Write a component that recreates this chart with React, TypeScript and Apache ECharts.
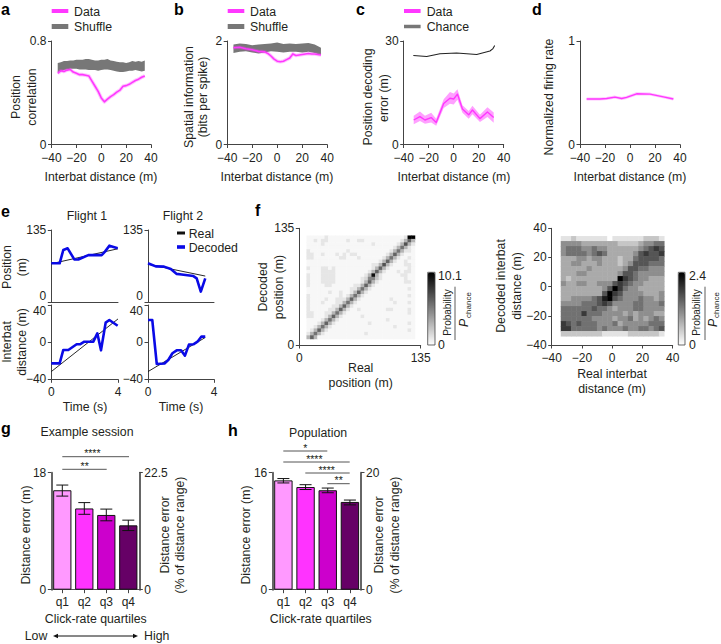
import React, { useEffect, useRef } from "react";
import * as echarts from "echarts";

const FONT = "Liberation Sans";
const INK = "#231f20";
const AXIS = "#444";
const MAGENTA = "#ff38ff";
const GREY = "#777777";
const BLUE = "#0a0ae6";

const aX = [-35, -32.5, -30, -27.5, -25, -22.5, -20, -17.5, -15, -12.5, -10, -7.5, -5, -2.5, 0, 2.5, 5, 7.5, 10, 12.5, 15, 17.5, 20, 22.5, 25, 27.5, 30, 32.5, 35];
const aData = [0.55, 0.57, 0.565, 0.575, 0.58, 0.56, 0.55, 0.54, 0.54, 0.535, 0.53, 0.49, 0.45, 0.41, 0.36, 0.33, 0.35, 0.37, 0.385, 0.405, 0.42, 0.45, 0.455, 0.465, 0.48, 0.495, 0.505, 0.52, 0.53];
const aShuffleHi = [0.63, 0.635, 0.645, 0.645, 0.65, 0.65, 0.655, 0.655, 0.655, 0.66, 0.66, 0.655, 0.65, 0.65, 0.655, 0.655, 0.66, 0.65, 0.645, 0.64, 0.635, 0.635, 0.63, 0.635, 0.645, 0.64, 0.645, 0.64, 0.65];
const aShuffleLo = [0.56, 0.565, 0.575, 0.58, 0.585, 0.585, 0.585, 0.58, 0.58, 0.58, 0.575, 0.575, 0.575, 0.57, 0.575, 0.58, 0.58, 0.575, 0.57, 0.565, 0.56, 0.56, 0.565, 0.57, 0.57, 0.575, 0.57, 0.565, 0.57];

const bX = [-35, -30, -25, -20, -15, -10, -7.5, -5, -2.5, 0, 2.5, 5, 7.5, 10, 12.5, 15, 17.5, 20, 22.5, 25, 27.5, 30, 32.5, 35];
const bData = [1.87, 1.88, 1.85, 1.83, 1.8, 1.79, 1.76, 1.71, 1.65, 1.61, 1.6, 1.61, 1.64, 1.67, 1.75, 1.72, 1.73, 1.74, 1.75, 1.76, 1.75, 1.75, 1.74, 1.73];
const bShuffleX = [-35, -30, -25, -20, -15, -10, -5, 0, 5, 10, 15, 20, 25, 30, 35];
const bShuffleHi = [1.93, 1.95, 1.94, 1.92, 1.93, 1.94, 1.95, 1.97, 1.94, 1.95, 1.94, 1.95, 1.96, 1.93, 1.87];
const bShuffleLo = [1.77, 1.79, 1.8, 1.78, 1.76, 1.78, 1.8, 1.79, 1.78, 1.79, 1.79, 1.78, 1.79, 1.77, 1.73];

const cX = [-32, -27, -23, -18, -14, -8, -3, 0, 3, 7, 12, 15, 21, 27, 32];
const cData = [7.1, 8.1, 7.1, 7.8, 6.4, 11.9, 13.4, 13.2, 14.6, 10.3, 8.6, 10, 7.5, 9.4, 7.8];
const cDataLo = [5.9, 6.8, 6.0, 6.4, 5.4, 10.6, 11.8, 11.6, 13.0, 9.2, 7.5, 8.8, 6.5, 8.0, 6.3];
const cDataHi = [8.3, 9.6, 8.3, 9.2, 7.5, 13.1, 15.2, 14.8, 16.0, 11.4, 9.7, 11.2, 8.6, 10.8, 9.3];
const cChanceX = [-32.3, -21.6, -11, 2.3, 10.4, 18.4, 29, 31.2, 32.8];
const cChance = [25.8, 25.5, 26.3, 26.5, 26.3, 26.1, 27.1, 27.7, 28.7];

const dX = [-34.7, -24, -18.7, -12, -6.7, -2.7, 5.3, 16, 26.7, 34.7];
const dData = [0.44, 0.44, 0.445, 0.458, 0.445, 0.455, 0.49, 0.487, 0.46, 0.44];

const e1PosT = [0, 0.5, 0.72, 0.98, 1.38, 1.62, 2.22, 3.02, 3.22, 3.48, 3.98];
const e1PosDecoded = [72.8, 72.8, 97.7, 100.8, 80, 80, 88, 88, 94.6, 105.8, 100.8];
const e1PosRealT = [0, 4];
const e1PosReal = [72, 100];
const e2PosT = [0, 0.47, 0.97, 1.38, 1.74, 2.04, 2.75, 2.95, 3.2, 3.47];
const e2PosDecoded = [72.8, 67, 66.6, 62, 53, 52, 49, 44.8, 20, 44.8];
const e2PosRealT = [0, 3.47];
const e2PosReal = [71, 49];
const e1DistT = [0, 0.5, 0.72, 1.02, 1.52, 1.72, 1.98, 2.52, 2.76, 2.98, 3.26, 3.48, 3.98];
const e1DistDecoded = [-22.8, -22.8, -8.4, -8.4, -2.3, -2.3, 0.5, 0.5, 9.5, -8.8, 21, 23.8, 17.7];
const e1DistRealT = [0, 4];
const e1DistReal = [-31.7, 25];
const e2DistT = [0, 0.26, 0.53, 1, 1.24, 1.48, 1.74, 2, 2.24, 2.48, 2.75, 3, 3.24, 3.47];
const e2DistDecoded = [23.8, 23.8, -23.5, -23, -19, -12, -8.8, -8.8, -14.5, -2.7, -2.3, 0.5, 6, 6];
const e2DistRealT = [0, 3.47];
const e2DistReal = [-31.7, 5];

// Position heat map: darkness levels 0-f, top row first
const fPosRows = [
  "0000010000" + "0000000000" + "00000001ff",
  "0010110000" + "0100110000" + "0000001494",
  "0000100000" + "0000000010" + "0000014a41",
  "0000000000" + "0000000000" + "0000148410",
  "1000000000" + "0100000000" + "0001484110",
  "1100100010" + "1011000000" + "0014941000",
  "1100000001" + "1000100000" + "0148410010",
  "0000000000" + "0000000000" + "1494100100",
  "0000000000" + "0000000011" + "4a41000110",
  "1000110100" + "0000000014" + "9410000010",
  "0000111100" + "0000000149" + "4100010110",
  "1000111100" + "00000014e4" + "1000001100",
  "1000111100" + "0000012773" + "1000000100",
  "1000111100" + "0000014941" + "0000000110",
  "1000011000" + "0001149410" + "0000000000",
  "0000000000" + "0011484100" + "0000000010",
  "0000001001" + "0014941000" + "0000000000",
  "1000000001" + "0148410000" + "0000000010",
  "1000010011" + "1494100000" + "0001000000",
  "1000100011" + "4841000000" + "0000100010",
  "1000000114" + "9410000000" + "0000000000",
  "1000001149" + "4100100000" + "0011000010",
  "1100011484" + "1000000000" + "0000000010",
  "1100014941" + "0000010000" + "0000000000",
  "0000148410" + "0000000000" + "0010000000",
  "0001494100" + "0000000100" + "0000000010",
  "0014841000" + "0000000000" + "0000100000",
  "0149410000" + "0000000000" + "0000000010",
  "1484100000" + "0000001000" + "0000000000",
  "4940000000" + "0000000000" + "0000000000",
];
const fPosMax = 10.1;

// Interbat-distance heat map: darkness levels 0-9, top row first
const fDistRows = [
  "11211111101111112221",
  "44443333333222234455",
  "45554454433333345676",
  "45555456533333467667",
  "33344344333233566665",
  "33443334333234666555",
  "33333433333346655444",
  "33344333333466544444",
  "32333333333976544333",
  "43344334446765443333",
  "33333333469754433333",
  "33333333697644443334",
  "33444456896544454434",
  "44445556764444554445",
  "55555565543444554444",
  "55557555444434344433",
  "55555544443445343454",
  "76565554445344444555",
  "77555554544454455456",
  "22222222111112222221",
];
const fDistMax = 2.4;

const quartiles = ["q1", "q2", "q3", "q4"];
const quartileColours = ["#ff99ff", "#ff33ff", "#cc00cc", "#660066"];
const gMeans = [15.3, 12.5, 11.5, 9.9];
const gErrLo = [14.4, 11.6, 10.6, 9.1];
const gErrHi = [16.1, 13.4, 12.4, 10.7];
const hMeans = [14.95, 14.04, 13.6, 12.0];
const hErrLo = [14.6, 13.7, 13.26, 11.6];
const hErrHi = [15.2, 14.36, 13.9, 12.26];

const minusFmt = (v: number) => String(v).replace("-", "\u2212");

function buildOption() {
  const grids: any[] = [];
  const xAxes: any[] = [];
  const yAxes: any[] = [];
  const series: any[] = [];
  const graphic: any[] = [];
  const visualMap: any[] = [];

  const txt = (x: number, y: number, text: string, o: any = {}) =>
    graphic.push({
      type: "text",
      x,
      y,
      rotation: o.rot ? Math.PI / 2 : 0,
      silent: true,
      style: {
        text,
        fill: o.fill || INK,
        fontFamily: FONT,
        fontSize: o.size || 12.3,
        fontWeight: o.weight || "normal",
        fontStyle: o.italic ? "italic" : "normal",
        align: o.align || "center",
        verticalAlign: "middle",
      },
    });
  const hline = (x1: number, y1: number, x2: number, y2: number, stroke = "#555", lineWidth = 1) =>
    graphic.push({ type: "line", silent: true, shape: { x1, y1, x2, y2 }, style: { stroke, lineWidth } });
  const swatch = (x: number, y: number, w: number, h: number, fill: string) =>
    graphic.push({ type: "rect", silent: true, shape: { x, y: y - h / 2, width: w, height: h }, style: { fill } });

  const axis = (min: number, max: number, interval: number, o: any = {}) => ({
    type: "value",
    min,
    max,
    interval,
    gridIndex: o.grid,
    position: o.position,
    splitLine: { show: false },
    axisLine: { show: true, onZero: false, lineStyle: { color: o.color || AXIS, width: o.lw || 1 } },
    axisTick: { show: o.tick !== false, length: 3.5, lineStyle: { color: AXIS, width: 1 } },
    axisLabel: {
      show: o.label !== false,
      color: INK,
      fontFamily: FONT,
      fontSize: 12,
      margin: o.margin ?? 6,
      formatter: minusFmt,
      hideOverlap: false,
      verticalAlignMinLabel: o.vMin,
      verticalAlignMaxLabel: o.vMax,
    },
  });
  const addGrid = (left: number, top: number, width: number, height: number) => {
    grids.push({ left, top, width, height, containLabel: false, outerBoundsMode: "none" });
    return grids.length - 1;
  };
  const plain = (g: number, xr: number[], yr: number[], xo: any = {}, yo: any = {}) => {
    xAxes.push(axis(xr[0], xr[1], xr[2], { grid: g, margin: 7, ...xo }));
    yAxes.push(axis(yr[0], yr[1], yr[2], { grid: g, margin: 5, ...yo }));
    return { xAxisIndex: xAxes.length - 1, yAxisIndex: yAxes.length - 1 };
  };
  const line = (ax: any, xs: number[], ys: number[], color: string, width: number, opacity = 1) =>
    series.push({
      type: "line",
      ...ax,
      data: xs.map((x, i) => [x, ys[i]]),
      symbol: "none",
      silent: true,
      clip: false,
      lineStyle: { color, width, opacity, join: "round" },
    });
  const band = (ax: any, xs: number[], lo: number[], hi: number[], fill: string) => {
    const rows = xs.map((x, i) => [x, lo[i], hi[i]]);
    series.push({
      type: "custom",
      ...ax,
      silent: true,
      clip: false,
      encode: { x: 0, y: 1 },
      data: rows,
      renderItem: (params: any, api: any) => {
        if (params.dataIndex !== 0) return null;
        const upper = rows.map((r) => api.coord([r[0], r[2]]));
        const lower = rows.map((r) => api.coord([r[0], r[1]])).reverse();
        return { type: "polygon", shape: { points: upper.concat(lower) }, style: { fill } };
      },
    });
  };

  // Panels a-d
  const topY = 41;
  const topH = 103.5;
  const xr = [-40, 40, 20];

  const a = plain(addGrid(51.5, topY, 99.5, topH), xr, [0, 0.8, 0.8]);
  band(a, aX, aShuffleLo, aShuffleHi, GREY);
  line(a, aX, aData, MAGENTA, 3.6, 0.3);
  line(a, aX, aData, MAGENTA, 1.6);

  const b = plain(addGrid(227.2, topY, 100, topH), xr, [0, 2, 2]);
  band(b, bShuffleX, bShuffleLo, bShuffleHi, GREY);
  line(b, bX, bData, MAGENTA, 3.6, 0.3);
  line(b, bX, bData, MAGENTA, 1.6);

  const c = plain(addGrid(403.7, topY, 100, topH), xr, [0, 30, 30]);
  band(c, cX, cDataLo, cDataHi, "#ffa0ff");
  line(c, cX, cData, MAGENTA, 1.4);
  line(c, cChanceX, cChance, "#222", 1.1);

  const d = plain(addGrid(580, topY, 100, topH), xr, [0, 1, 1]);
  line(d, dX, dData, "#ff38ff", 3, 0.3);
  line(d, dX, dData, MAGENTA, 1.4);

  // Panels a-d text
  swatch(51.7, 11, 16.6, 4, MAGENTA);
  txt(74, 11.5, "Data", { align: "left" });
  swatch(51.7, 26.5, 16.6, 5, GREY);
  txt(74, 27, "Shuffle", { align: "left" });
  swatch(227.7, 11, 16.6, 4, MAGENTA);
  txt(250, 11.5, "Data", { align: "left" });
  swatch(227.7, 26.5, 16.6, 5, GREY);
  txt(250, 27, "Shuffle", { align: "left" });
  swatch(404, 11, 16.6, 4, MAGENTA);
  txt(426.7, 11.5, "Data", { align: "left" });
  swatch(404, 26.5, 16.6, 3.5, GREY);
  txt(426.7, 27, "Chance", { align: "left" });

  txt(15.7, 97, "Position", { rot: 1 });
  txt(31.7, 97, "correlation", { rot: 1 });
  txt(189, 97, "Spatial information", { rot: 1 });
  txt(203, 97, "(bits per spike)", { rot: 1 });
  txt(368, 97, "Position decoding", { rot: 1 });
  txt(384, 98, "error (m)", { rot: 1 });
  txt(549, 97, "Normalized firing rate", { rot: 1 });
  [101, 277, 454, 630].forEach((x) => txt(x, 176.5, "Interbat distance (m)"));

  // Panels e
  const eTop = [230, 72.3];
  const eBot = [305, 74.3];
  const eLeft = [51.3, 66.7];
  const eLeft2 = [148, 66];
  const hideX = { label: false, tick: false };
  const e1 = plain(addGrid(eLeft[0], eTop[0], eLeft[1], eTop[1]), [0, 4, 4], [0, 135, 135], hideX, { vMin: "bottom" });
  line(e1, e1PosRealT, e1PosReal, "#111", 0.9);
  line(e1, e1PosT, e1PosDecoded, BLUE, 2.6);
  const e2 = plain(addGrid(eLeft2[0], eTop[0], eLeft2[1], eTop[1]), [0, 4, 4], [0, 135, 135], hideX, { vMin: "bottom" });
  line(e2, e2PosRealT, e2PosReal, "#111", 0.9);
  line(e2, e2PosT, e2PosDecoded, BLUE, 2.6);
  const e3 = plain(addGrid(eLeft[0], eBot[0], eLeft[1], eBot[1]), [0, 4, 4], [-40, 40, 40], {}, { vMax: "top" });
  line(e3, e1DistRealT, e1DistReal, "#111", 0.9);
  line(e3, e1DistT, e1DistDecoded, BLUE, 2.6);
  const e4 = plain(addGrid(eLeft2[0], eBot[0], eLeft2[1], eBot[1]), [0, 4, 4], [-40, 40, 40], {}, { vMax: "top" });
  line(e4, e2DistRealT, e2DistReal, "#111", 0.9);
  line(e4, e2DistT, e2DistDecoded, BLUE, 2.6);

  txt(87, 215.7, "Flight 1");
  txt(183, 215.7, "Flight 2");
  swatch(177, 233, 8, 3, "#111");
  txt(188.7, 234, "Real", { align: "left" });
  swatch(177, 247, 8, 3.6, BLUE);
  txt(188.7, 248, "Decoded", { align: "left" });
  txt(7, 267, "Position", { rot: 1 });
  txt(21.7, 267, "(m)", { rot: 1 });
  txt(7, 342, "Interbat", { rot: 1 });
  txt(21.7, 342, "distance (m)", { rot: 1 });
  txt(85, 407, "Time (s)");
  txt(181, 407, "Time (s)");

  // Panels f
  const heat = (rows: string[], toValue: (level: number) => number, maxVal: number, left: number, top: number, w: number, h: number, barLeft: number, barW: number) => {
    const g = addGrid(left, top, w, h);
    const n = rows.length;
    const m = rows[0].length;
    const cats = (k: number) => Array.from({ length: k }, (_, i) => String(i));
    xAxes.push({ type: "category", gridIndex: g, data: cats(m), show: false });
    yAxes.push({ type: "category", gridIndex: g, data: cats(n), show: false });
    const data: number[][] = [];
    rows.forEach((row, r) => {
      for (let col = 0; col < row.length; col++) {
        data.push([col, n - 1 - r, toValue(parseInt(row[col], 16))]);
      }
    });
    series.push({
      type: "heatmap",
      xAxisIndex: xAxes.length - 1,
      yAxisIndex: yAxes.length - 1,
      data,
      silent: true,
      progressive: 0,
      itemStyle: { borderWidth: 0 },
    });
    visualMap.push({
      type: "continuous",
      seriesIndex: series.length - 1,
      min: 0,
      max: maxVal,
      dimension: 2,
      left: barLeft,
      top: 272.3,
      itemWidth: barW,
      itemHeight: 72.7,
      padding: 0,
      showLabel: false,
      calculable: false,
      realtime: false,
      hoverLink: false,
      inRange: { color: ["#ffffff", "#000000"] },
    });
    graphic.push({
      type: "rect",
      silent: true,
      z: 100,
      shape: { x: barLeft, y: 272.3, width: barW, height: 72.7 },
      style: { fill: "none", stroke: "#444", lineWidth: 0.8 },
    });
  };

  plain(addGrid(299.3, 228.3, 121.4, 116.7), [0, 135, 135], [0, 135, 135]);
  heat(fPosRows, (l) => ((l + 0.5) / 15.5) * fPosMax, fPosMax, 306.7, 235.7, 108.3, 103.3, 427.7, 7.3);
  plain(addGrid(551.7, 228.3, 121, 116.7), xr, [-40, 40, 20]);
  heat(fDistRows, (l) => (l / 9) * fDistMax, fDistMax, 561, 236.3, 103.3, 100, 678.3, 6.7);

  txt(263, 287, "Decoded", { rot: 1 });
  txt(279, 287, "position (m)", { rot: 1 });
  txt(360.7, 368, "Real");
  txt(360.7, 383, "position (m)");
  txt(438, 275.7, "10.1", { align: "left" });
  txt(438, 345, "0", { align: "left" });
  txt(447, 312.5, "Probability", { rot: 1, size: 10 });
  hline(455, 286.7, 455, 340, "#333", 0.8);
  txt(464, 323, "P", { rot: 1, italic: true });
  txt(468, 305, "chance", { rot: 1, size: 8 });

  txt(500.7, 286, "Decoded interbat", { rot: 1 });
  txt(516.7, 286, "distance (m)", { rot: 1 });
  txt(612, 374, "Real interbat");
  txt(612, 389, "distance (m)");
  txt(689, 275.7, "2.4", { align: "left" });
  txt(689, 345, "0", { align: "left" });
  txt(696.7, 312.5, "Probability", { rot: 1, size: 10 });
  hline(705, 286.7, 705, 340, "#333", 0.8);
  txt(712.5, 323, "P", { rot: 1, italic: true });
  txt(716, 305, "chance", { rot: 1, size: 8 });

  // Panels g, h
  const bars = (left: number, width: number, yMax: number, rMax: number, means: number[], lo: number[], hi: number[]) => {
    const g = addGrid(left, 472.7, width, 117);
    xAxes.push({
      type: "category",
      gridIndex: g,
      data: quartiles,
      axisLine: { show: true, onZero: false, lineStyle: { color: "#555", width: 1 } },
      axisTick: { show: true, alignWithLabel: true, length: 3.5, lineStyle: { color: "#444" } },
      axisLabel: { color: INK, fontFamily: FONT, fontSize: 12, margin: 6 },
    });
    const ix = xAxes.length - 1;
    yAxes.push(axis(0, yMax, yMax, { grid: g, position: "left", color: "#666", lw: 2, margin: 5 }));
    const iy = yAxes.length - 1;
    yAxes.push(axis(0, rMax, rMax, { grid: g, position: "right", color: "#666", lw: 2, margin: 5 }));
    series.push({
      type: "bar",
      xAxisIndex: ix,
      yAxisIndex: iy,
      barCategoryGap: "17%",
      silent: true,
      data: means.map((v, i) => ({ value: v, itemStyle: { color: quartileColours[i], borderColor: "#111", borderWidth: 1 } })),
    });
    series.push({
      type: "custom",
      xAxisIndex: ix,
      yAxisIndex: iy,
      silent: true,
      encode: { x: 0, y: [1, 2] },
      data: quartiles.map((_, i) => [i, lo[i], hi[i]]),
      z: 5,
      renderItem: (_p: any, api: any) => {
        const a0 = api.coord([api.value(0), api.value(1)]);
        const a1 = api.coord([api.value(0), api.value(2)]);
        const cap = 6;
        const st = { stroke: "#111", lineWidth: 1 };
        return {
          type: "group",
          children: [
            { type: "line", shape: { x1: a0[0], y1: a0[1], x2: a1[0], y2: a1[1] }, style: st },
            { type: "line", shape: { x1: a0[0] - cap, y1: a0[1], x2: a0[0] + cap, y2: a0[1] }, style: st },
            { type: "line", shape: { x1: a1[0] - cap, y1: a1[1], x2: a1[0] + cap, y2: a1[1] }, style: st },
          ],
        };
      },
    });
  };
  bars(51.3, 88, 18, 22.5, gMeans, gErrLo, gErrHi);
  bars(272.3, 88.7, 16, 20, hMeans, hErrLo, hErrHi);

  const sig = (x1: number, x2: number, y: number, stars: string, sx: number) => {
    hline(x1, y, x2, y, "#555", 1);
    txt(sx, y - 3.5, stars, { size: 10.5 });
  };
  txt(87, 432, "Example session");
  sig(62.3, 129, 456.7, "****", 92.3);
  sig(62.3, 106.7, 469.3, "**", 84.7);
  txt(25.7, 535, "Distance error (m)", { rot: 1 });
  txt(165, 535, "Distance error", { rot: 1 });
  txt(180, 535, "(% of distance range)", { rot: 1 });
  txt(95.7, 619, "Click-rate quartiles");
  txt(36, 636, "Low");
  txt(156.7, 636, "High");
  hline(55, 636, 136, 636, "#111", 1);
  graphic.push({ type: "polygon", silent: true, shape: { points: [[53, 636], [58, 633.8], [58, 638.2]] }, style: { fill: "#111" } });
  graphic.push({ type: "polygon", silent: true, shape: { points: [[138, 636], [133, 633.8], [133, 638.2]] }, style: { fill: "#111" } });

  txt(318, 433, "Population");
  sig(283.3, 327.3, 451, "*", 305.3);
  sig(283.3, 349.7, 462, "****", 314.3);
  sig(305.3, 349.7, 473, "****", 326.7);
  sig(327.3, 349.7, 483.7, "**", 338.7);
  txt(246, 535, "Distance error (m)", { rot: 1 });
  txt(379, 535, "Distance error", { rot: 1 });
  txt(395, 535, "(% of distance range)", { rot: 1 });
  txt(320.7, 619, "Click-rate quartiles");

  // Panel letters
  const letter = (x: number, y: number, s: string) => txt(x, y, s, { size: 16, weight: "bold", align: "left", fill: "#000" });
  letter(1, 9, "a");
  letter(174, 9, "b");
  letter(356, 9, "c");
  letter(532, 9, "d");
  letter(1, 211, "e");
  letter(255, 210, "f");
  letter(1, 428, "g");
  letter(228, 430, "h");

  return { animation: false, backgroundColor: "#fff", grid: grids, xAxis: xAxes, yAxis: yAxes, series, visualMap, graphic };
}

export default function App() {
  const ref = useRef<HTMLDivElement | null>(null);
  useEffect(() => {
    document.body.style.margin = "0";
    const chart = echarts.init(ref.current!, undefined, { renderer: "svg" });
    chart.setOption(buildOption() as any);
    return () => chart.dispose();
  }, []);
  return <div ref={ref} style={{ width: 721, height: 644, position: "absolute", left: 0, top: 0, overflow: "hidden" }} />;
}
